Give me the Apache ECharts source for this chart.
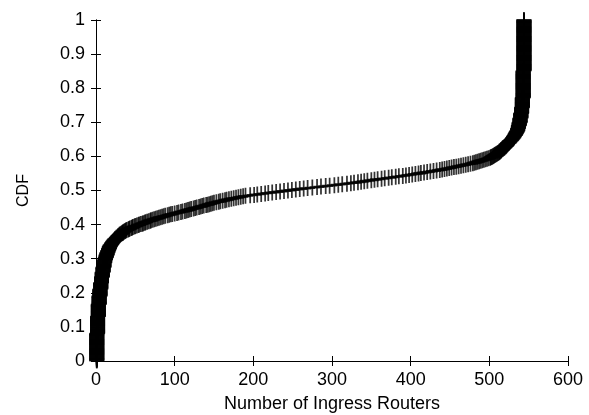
<!DOCTYPE html>
<html>
<head>
<meta charset="utf-8">
<script src="https://cdn.jsdelivr.net/npm/echarts@6/dist/echarts.min.js"></script>
<style>
html,body{margin:0;padding:0;background:#fff;}
#chart{width:589px;height:415px;}
</style>
</head>
<body>
<div id="chart"></div>
<script>
// Distinct numbers of ingress routers and how many items have each value
const routerValues = [
  1,2,3,4,5,6,7,8,9,10,
  11,12,13,14,15,16,17,
  18,19,20,21,22,23,24,25,26,
  27,28,29,30,31,32,33,34,35,36,37,
  38,39,41,42,43,45,46,47,49,50,
  52,54,55,57,59,60,62,
  63,65,67,69,70,72,74,76,78,80,
  82,84,86,88,91,93,95,97,100,
  103,105,108,110,113,115,
  117,119,121,124,126,128,131,133,135,137,140,142,144,146,148,150,
  153,156,158,161,164,166,169,172,175,178,181,184,187,190,
  196,201,205,210,215,219,224,229,
  234,239,244,249,254,259,264,269,275,
  281,286,292,297,303,308,313,319,
  324,328,333,337,341,345,350,354,
  358,363,367,372,376,381,385,390,
  394,398,402,406,410,413,417,421,425,429,433,
  437,440,443,446,449,452,455,458,461,464,467,470,473,476,
  479,481,483,485,487,489,491,493,495,497,
  499,501,502,503,504,505,506,507,508,509,510,
  511,512,513,514,515,516,517,518,519,520,
  521,522,523,524,525,526,527,528,
  529,530,531,532,533,534,535,
  536,537,538,
  539,540,541,
  542,543,544
];
const itemCounts = [
  56,35,25,17,14,13,12,10,10,9,
  6,5,5,5,4,4,4,
  3,2,3,2,2,2,2,1,2,
  1,2,1,2,1,1,1,2,1,1,1,
  1,1,1,1,1,1,1,1,1,1,
  1,1,1,1,1,1,1,
  1,1,1,1,1,1,1,1,1,1,
  1,1,1,1,1,1,1,1,1,
  1,1,1,1,1,1,
  1,1,1,1,1,1,1,1,1,1,1,1,1,1,1,1,
  1,1,1,1,1,1,1,1,1,1,1,1,1,1,
  1,1,1,1,1,1,1,1,
  1,1,1,1,1,1,1,1,1,
  1,1,1,1,1,1,1,1,
  1,1,1,1,1,1,1,1,
  1,1,1,1,1,1,1,1,
  1,1,1,1,1,1,1,1,1,1,1,
  1,1,1,1,1,1,1,1,1,1,1,1,1,1,
  1,1,1,1,1,1,1,1,1,1,
  1,1,1,1,1,1,1,1,1,1,1,
  1,1,2,1,2,1,2,1,2,1,
  2,2,2,1,2,2,1,2,
  2,2,3,2,3,3,3,
  5,6,6,
  9,10,12,
  20,55,105
];
const xTicks = [0,100,200,300,400,500,600];
const yTicks = [0,0.1,0.2,0.3,0.4,0.5,0.6,0.7,0.8,0.9,1];

// Empirical CDF built from the counts
const total = itemCounts.reduce((a,b)=>a+b,0);
const cdfPoints = [];
let rank = 0;
routerValues.forEach((v,k)=>{
  for(let j=0;j<itemCounts[k];j++){
    rank++;
    cdfPoints.push([v, rank/total]);
  }
});

const font = "'Liberation Sans', Arial, Helvetica, sans-serif";
const chart = echarts.init(document.getElementById('chart'), null, {renderer:'canvas'});
const axisLine = {show:true, lineStyle:{color:'#000', width:1}};
const tick = {show:true, inside:true, length:5, lineStyle:{color:'#000', width:1}};
chart.setOption({
  animation:false,
  backgroundColor:'#fff',
  grid:{left:96, right:21, top:20, bottom:54, containLabel:false, outerBoundsMode:'none'},
  xAxis:[{
    type:'value', min:xTicks[0], max:xTicks[xTicks.length-1], interval:100,
    position:'bottom',
    axisLine:axisLine, axisTick:tick, splitLine:{show:false},
    axisLabel:{color:'#000', fontSize:18, fontFamily:font, margin:10},
    name:'Number of Ingress Routers', nameLocation:'middle', nameGap:34,
    nameTextStyle:{color:'#000', fontSize:18, fontFamily:font}
  },{
    type:'value', min:xTicks[0], max:xTicks[xTicks.length-1], interval:100,
    position:'top',
    axisLine:axisLine, axisTick:tick, splitLine:{show:false}, axisLabel:{show:false}
  }],
  yAxis:[{
    type:'value', min:yTicks[0], max:yTicks[yTicks.length-1], interval:0.1,
    position:'left',
    axisLine:axisLine, axisTick:tick, splitLine:{show:false},
    axisLabel:{color:'#000', fontSize:18, fontFamily:font, margin:11,
      formatter:v=>String(+v.toFixed(1))},
    name:'CDF', nameLocation:'middle', nameGap:64,
    nameTextStyle:{color:'#000', fontSize:16, fontFamily:font}
  },{
    type:'value', min:yTicks[0], max:yTicks[yTicks.length-1], interval:0.1,
    position:'right',
    axisLine:axisLine, axisTick:tick, splitLine:{show:false}, axisLabel:{show:false}
  }],
  series:[{
    type:'scatter',
    xAxisIndex:0, yAxisIndex:0,
    data:cdfPoints,
    symbol:'path://M0,8L16,8M8,0L8,16',
    symbolSize:[15,16],
    clip:false,
    itemStyle:{color:'rgba(0,0,0,0)', borderColor:'#000', borderWidth:1.8},
    emphasis:{disabled:true}
  }]
});
</script>
</body>
</html>
